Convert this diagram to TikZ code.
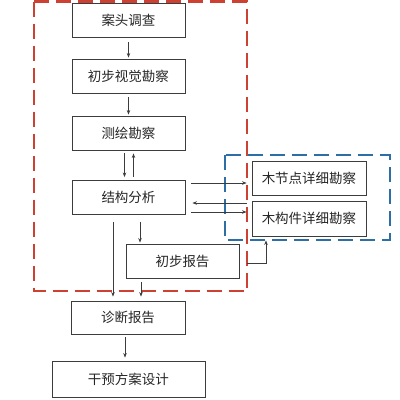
\documentclass[tikz,border=0pt]{standalone}
\usepackage{fontspec}
\setmainfont{Noto Sans CJK SC}
\usetikzlibrary{arrows.meta}
\definecolor{boxred}{RGB}{205,65,50}
\definecolor{boxblue}{RGB}{45,110,165}
\definecolor{linegray}{RGB}{60,60,60}
\begin{document}
\begin{tikzpicture}
[x=1pt,y=-1pt,every node/.style={rectangle,draw=linegray,line width=0.9pt,fill=white,
 minimum width=113pt,minimum height=34pt,inner sep=0pt,font=\fontsize{13.5}{15}\selectfont,text=black!85},
 link/.style={draw=linegray,line width=0.8pt,-{Stealth[length=4.5pt,width=3.5pt]}}]
\useasboundingbox (0,0) rectangle (400,400);
% dashed groups
\draw[boxred,line width=2.6pt,dash pattern=on 15pt off 7pt] (34,1.5) rectangle (247,291);
\draw[boxblue,line width=2.2pt,dash pattern=on 15pt off 7pt] (225,155) rectangle (390,240);
\node (n1) at (128.5,20.5) {案头调查};
\node (n2) at (128.5,76) {初步视觉勘察};
\node (n3) at (128.5,133) {测绘勘察};
\node (n4) at (128.5,197.5) {结构分析};
\node[minimum width=114pt] (n5) at (309,178) {木节点详细勘察};
\node[minimum width=114pt,minimum height=35pt] (n6) at (309,218.5) {木构件详细勘察};
\node (n7) at (182.5,261) {初步报告};
\node[minimum width=114pt,minimum height=33pt] (n8) at (128,317.5) {诊断报告};
\node[minimum width=153pt,minimum height=36pt] (n9) at (128.5,379) {干预方案设计};
\foreach \from/\to in {n1/n2,n2/n3}
\draw[link,shorten <=4pt,shorten >=1pt] (\from) -- (\to);
\draw[link,shorten <=3pt,shorten >=3pt] ([shift={(-4,0)}]n3.south) -- ([shift={(-4,0)}]n4.north);
\draw[link,shorten <=3pt,shorten >=3pt] ([shift={(5,0)}]n4.north) -- ([shift={(5,0)}]n3.south);
\draw[link] ([shift={(6,-14.5)}]n4.east) -- ([shift={(-5,5)}]n5.west);
\draw[link] ([shift={(-5,-15.5)}]n6.west) -- ([shift={(7,5.5)}]n4.east);
\draw[link] ([shift={(6,14.5)}]n4.east) -- ([shift={(-5,-6.5)}]n6.west);
\draw[link] ([shift={(11.5,7)}]n4.south) -- ([shift={(-42.5,-1)}]n7.north);
\draw[link] ([shift={(-15.5,7)}]n4.south) -- ([shift={(-15,-4)}]n8.north);
\draw[link] ([shift={(-41.5,4)}]n7.south) -- ([shift={(13,-4)}]n8.north);
\draw[link] ([shift={(-3,3)}]n8.south) -- ([shift={(-3.5,-3)}]n9.north);
\draw[link] ([shift={(8,2)}]n7.east) -| ([shift={(-43,4)}]n6.south);
\end{tikzpicture}
\end{document}
